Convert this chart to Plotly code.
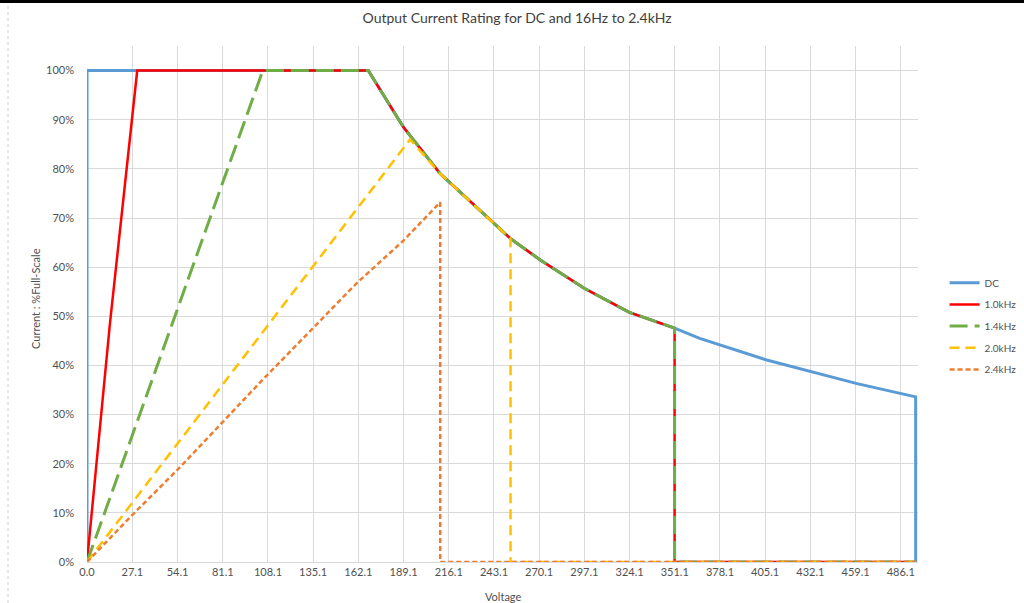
import plotly.graph_objects as go

# Voltage (V) and current (% of full scale)
dc_x = [0, 0, 168, 189, 211, 235, 253, 271, 297, 324, 351, 366, 406, 460, 495, 495]
dc_y = [0, 100, 100, 88.5, 79.0, 71.5, 65.8, 61.4, 55.7, 50.8, 47.6, 45.5, 41.1, 36.3, 33.6, 0]

k10_x = [0, 13.7, 30, 168, 189, 211, 235, 253, 271, 297, 324, 351, 351, 495]
k10_y = [0, 48.5, 100, 100, 88.5, 79.0, 71.5, 65.8, 61.4, 55.7, 50.8, 47.6, 0, 0]

k14_x = [0, 105, 168, 189, 211, 235, 253, 271, 297, 324, 351, 351, 495]
k14_y = [0, 100, 100, 88.5, 79.0, 71.5, 65.8, 61.4, 55.7, 50.8, 47.6, 0, 0]

k20_x = [0, 103, 193, 211, 235, 253, 253, 495]
k20_y = [0, 46.0, 86.0, 79.0, 71.5, 65.8, 0, 0]

k24_x = [0, 25.7, 55.6, 103, 161, 189, 211, 211, 495]
k24_y = [0, 9.1, 19.3, 36.4, 56.7, 65.4, 73.2, 0, 0]

tick_vals = [0, 27.1, 54.1, 81.1, 108.1, 135.1, 162.1, 189.1, 216.1, 243.1,
             270.1, 297.1, 324.1, 351.1, 378.1, 405.1, 432.1, 459.1, 486.1]
tick_text = ['%.1f' % v for v in tick_vals]

grey = '#505050'
fnt = 'Lato'

fig = go.Figure()
fig.add_trace(go.Scatter(x=dc_x, y=dc_y, name='DC', mode='lines', legendgroup='a',
                         line=dict(color='#5B9BD5', width=3)))
fig.add_trace(go.Scatter(x=k10_x, y=k10_y, name='1.0kHz', mode='lines', legendgroup='b',
                         line=dict(color='#FF0000', width=2.5)))
fig.add_trace(go.Scatter(x=k14_x, y=k14_y, name='1.4kHz', mode='lines', legendgroup='c',
                         line=dict(color='#70AD47', width=3, dash='18px,7px')))
fig.add_trace(go.Scatter(x=k20_x, y=k20_y, name='2.0kHz', mode='lines', legendgroup='d',
                         line=dict(color='#FFC000', width=2.5, dash='10px,6px')))
fig.add_trace(go.Scatter(x=k24_x, y=k24_y, name='2.4kHz', mode='lines', legendgroup='e',
                         line=dict(color='#ED7D31', width=2.5, dash='5px,3px')))

fig.update_layout(
    width=1024, height=603,
    margin=dict(l=87, r=106, t=46, b=41, autoexpand=False),
    paper_bgcolor='white', plot_bgcolor='white',
    font=dict(family=fnt, color=grey, size=11),
    title=dict(text='Output Current Rating for DC and 16Hz to 2.4kHz',
               x=0.505, xref='container', xanchor='center',
               y=1 - 18 / 603, yanchor='middle',
               font=dict(family=fnt, size=14, color='#404040')),
    legend=dict(x=1.032, y=0.457, xanchor='left', yanchor='middle',
                font=dict(family=fnt, size=10, color=grey),
                bgcolor='rgba(0,0,0,0)', itemwidth=30, tracegroupgap=2.7),
    showlegend=True,
)
fig.update_xaxes(range=[0, 496.4], tickmode='array', tickvals=tick_vals, ticktext=tick_text,
                 showgrid=True, gridcolor='#D9D9D9', gridwidth=1, automargin=False,
                 showline=True, linecolor='#D9D9D9', zeroline=False,
                 tickfont=dict(family=fnt, size=11, color=grey))
fig.update_yaxes(range=[0, 105], tickmode='array', tickvals=list(range(0, 101, 10)),
                 ticktext=['%d%%' % v for v in range(0, 101, 10)],
                 showgrid=True, gridcolor='#D9D9D9', gridwidth=1, automargin=False,
                 zeroline=False, showline=False, ticklabelstandoff=12,
                 tickfont=dict(family=fnt, size=11, color=grey))

fig.add_annotation(text='Current : %Full-Scale', textangle=-90, xref='paper', yref='paper',
                   x=(35 - 87) / 831, y=(562 - 298) / 516, showarrow=False,
                   xanchor='center', yanchor='middle', font=dict(family=fnt, size=11, color=grey))
fig.add_annotation(text='Voltage', xref='paper', yref='paper',
                   x=0.5, y=(562 - 596) / 516, showarrow=False,
                   xanchor='center', yanchor='middle', font=dict(family=fnt, size=11, color=grey))

# screenshot framing: dark band on top, faint line at the left
fig.add_shape(type='line', xref='paper', yref='paper', x0=-87 / 831, x1=(1024 - 87) / 831,
              y0=1 + 44.5 / 516, y1=1 + 44.5 / 516, line=dict(color='black', width=3), layer='above')
fig.add_shape(type='line', xref='paper', yref='paper', x0=(8 - 87) / 831, x1=(8 - 87) / 831,
              y0=-41 / 516, y1=1 + 40 / 516, line=dict(color='#D0D0D0', width=1, dash='dot'))

fig.write_html('out.html', config={'displayModeBar': False},
               post_script="document.body.style.margin='0';")
